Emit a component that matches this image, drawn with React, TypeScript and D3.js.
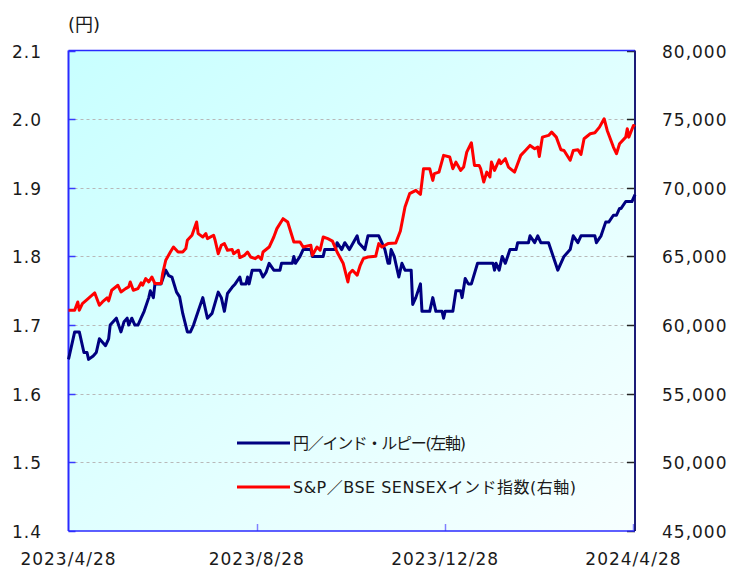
import React, { useRef, useEffect } from "react";
import * as d3 from "d3";

// x axis: days counted from 2023/4/28
const startDate = new Date(2023, 3, 28);
const endDate = new Date(2024, 3, 29);
const xTickLabels = ["2023/4/28", "2023/8/28", "2023/12/28", "2024/4/28"];

const yenTicks = [1.4, 1.5, 1.6, 1.7, 1.8, 1.9, 2.0, 2.1];
const sensexTicks = [45000, 50000, 55000, 60000, 65000, 70000, 75000, 80000];

const rupeeLabel = "円／インド・ルピー(左軸)";
const sensexLabel = "S&P／BSE SENSEXインド指数(右軸)";

// 円/インド・ルピー
const rupeeDays = [
  0, 4, 7, 10, 12, 13, 16, 18, 20, 22, 24, 26, 27, 31, 34, 36, 38, 39, 41, 43,
  45, 47, 49, 52, 53, 55, 56, 60, 63, 65, 67, 70, 72, 74, 77, 79, 81, 84, 87, 90,
  93, 97, 99, 101, 103, 106, 108, 111, 112, 115, 116, 117, 119, 124, 126, 128, 130, 133, 137, 138,
  145, 146, 147, 150, 152, 157, 158, 165, 166, 173, 174, 177, 179, 182, 187, 188, 192, 194, 201, 203,
  205, 207, 208, 209, 211, 214, 216, 218, 222, 223, 225, 228, 229, 234, 236, 238, 242, 243, 244, 249,
  251, 254, 255, 257, 259, 261, 265, 273, 275, 276, 277, 279, 281, 283, 286, 290, 291, 298, 299, 302,
  304, 306, 311, 314, 317, 321, 325, 327, 330, 332, 341, 342, 345, 348, 350, 353, 355, 357, 358, 361,
  365, 367,
];
const rupeeYen = [
  1.65, 1.69, 1.69, 1.66, 1.66, 1.65, 1.655, 1.66, 1.68, 1.675, 1.67, 1.68, 1.7, 1.71, 1.69, 1.705, 1.71, 1.7, 1.71, 1.7,
  1.7, 1.71, 1.72, 1.74, 1.75, 1.74, 1.76, 1.76, 1.78, 1.772, 1.77, 1.748, 1.741, 1.717, 1.69, 1.69, 1.7, 1.72, 1.74, 1.71,
  1.717, 1.748, 1.74, 1.72, 1.746, 1.755, 1.76, 1.77, 1.76, 1.76, 1.77, 1.76, 1.78, 1.78, 1.77, 1.777, 1.79, 1.78, 1.78, 1.79,
  1.79, 1.8, 1.79, 1.8, 1.81, 1.81, 1.8, 1.8, 1.81, 1.81, 1.82, 1.81, 1.82, 1.81, 1.83, 1.82, 1.81, 1.83, 1.83, 1.82,
  1.81, 1.79, 1.79, 1.81, 1.8, 1.77, 1.79, 1.78, 1.78, 1.73, 1.74, 1.76, 1.72, 1.72, 1.74, 1.72, 1.72, 1.71, 1.72, 1.72,
  1.75, 1.75, 1.74, 1.768, 1.76, 1.76, 1.79, 1.79, 1.79, 1.78, 1.79, 1.78, 1.8, 1.79, 1.81, 1.81, 1.82, 1.82, 1.83, 1.82,
  1.83, 1.82, 1.82, 1.8, 1.78, 1.8, 1.81, 1.83, 1.82, 1.83, 1.83, 1.82, 1.83, 1.85, 1.85, 1.86, 1.86, 1.87, 1.87, 1.88,
  1.88, 1.89,
];

// S&P/BSE SENSEX
const sensexDays = [
  0, 4, 6, 7, 9, 12, 14, 17, 20, 22, 25, 26, 28, 32, 34, 37, 39, 40, 42, 45,
  47, 48, 50, 52, 54, 56, 60, 61, 63, 66, 68, 71, 74, 76, 77, 80, 83, 84, 87, 89,
  90, 94, 95, 97, 99, 101, 103, 106, 107, 110, 111, 114, 116, 118, 121, 123, 125, 126, 130, 133,
  135, 139, 142, 146, 150, 152, 157, 158, 161, 163, 165, 168, 171, 174, 178, 181, 182, 184, 187, 189,
  191, 194, 199, 201, 203, 207, 212, 215, 218, 221, 225, 228, 230, 234, 236, 237, 240, 243, 247, 249,
  251, 254, 256, 258, 261, 263, 266, 267, 269, 271, 273, 274, 276, 279, 280, 283, 285, 289, 293, 296,
  299, 302, 304, 305, 307, 311, 313, 316, 319, 321, 325, 327, 330, 332, 334, 338, 341, 344, 347, 349,
  353, 355, 357, 361, 362, 363, 366, 367,
];
const sensexValues = [
  61080, 61080, 61685, 61080, 61570, 61860, 62050, 62340, 61445, 61685, 61975, 61760, 62535, 62900, 62410, 62655, 62780, 63140, 62535, 62655,
  63070, 62900, 63385, 63140, 63505, 63020, 63020, 63750, 64720, 65320, 65685, 65320, 65320, 65570, 66175, 66540, 67510, 66660, 66415, 66660,
  66295, 66540, 66175, 65200, 65810, 65935, 65450, 65500, 65200, 65450, 64915, 65080, 65320, 64960, 64840, 65010, 64790, 65320, 65685, 66415,
  67025, 67750, 67510, 66050, 66050, 65685, 65810, 65080, 65685, 65450, 66415, 66295, 66120, 65320, 64480, 63140, 63750, 63990, 63630, 64355,
  64840, 64960, 65010, 65935, 65685, 65935, 65980, 66850, 68600, 69570, 69810, 69520, 71390, 71390, 70540, 71030, 71145, 72360, 72240, 71390,
  71870, 71270, 71510, 72600, 73280, 71630, 71630, 71390, 70420, 71145, 70780, 71870, 71270, 72040, 71755, 72120, 71510, 71145, 72360, 72720,
  73085, 72845, 72965, 72285, 73690, 73815, 74055, 73690, 72775, 72720, 72000, 72720, 72775, 72430, 73575, 73935, 74010, 74420, 75030, 74180,
  72965, 72480, 73210, 73690, 74300, 73690, 74540, 74470,
];

const width = 729;
const height = 569;
const plotLeft = 68.5;
const plotRight = 635;
const plotTop = 50.5;
const plotBottom = 531;

const fontFamily = "'DejaVu Sans', 'Noto Sans CJK JP', sans-serif";
const cjkFont = "'DejaVu Sans', 'Noto Sans CJK JP', sans-serif";

const App = () => {
  const chartRef = useRef<HTMLDivElement>(null);

  useEffect(() => {
    const root = d3.select(chartRef.current);
    root.selectAll("*").remove();

    const svg = root
      .append("svg")
      .attr("width", width)
      .attr("height", height)
      .style("position", "absolute")
      .style("left", 0)
      .style("top", 0)
      .style("background", "#ffffff");

    const xScale = d3.scaleTime().domain([startDate, endDate]).range([plotLeft, plotRight]);
    const yLeft = d3.scaleLinear().domain([1.4, 2.1]).range([plotBottom, plotTop]);
    const yRight = d3.scaleLinear().domain([45000, 80000]).range([plotBottom, plotTop]);

    // background gradient
    const defs = svg.append("defs");
    const grad = defs
      .append("linearGradient")
      .attr("id", "bgGrad")
      .attr("x1", 0)
      .attr("y1", 0)
      .attr("x2", 1)
      .attr("y2", 1);
    grad.append("stop").attr("offset", "0%").attr("stop-color", "#c8ffff");
    grad.append("stop").attr("offset", "100%").attr("stop-color", "#f7ffff");

    svg
      .append("rect")
      .attr("x", plotLeft)
      .attr("y", plotTop)
      .attr("width", plotRight - plotLeft)
      .attr("height", plotBottom - plotTop)
      .attr("fill", "url(#bgGrad)");

    // gridlines
    svg
      .append("g")
      .selectAll("line")
      .data(yenTicks.filter((t) => t > 1.4 && t < 2.1))
      .enter()
      .append("line")
      .attr("x1", plotLeft)
      .attr("x2", plotRight)
      .attr("y1", (d) => Math.round(yLeft(d)) + 0.5)
      .attr("y2", (d) => Math.round(yLeft(d)) + 0.5)
      .attr("stroke", "#b8b8b8")
      .attr("stroke-dasharray", "3,3");

    // left ticks
    svg
      .append("g")
      .selectAll("line")
      .data(yenTicks)
      .enter()
      .append("line")
      .attr("x1", plotLeft)
      .attr("x2", plotLeft + 7)
      .attr("y1", (d) => Math.round(yLeft(d)) + 0.5)
      .attr("y2", (d) => Math.round(yLeft(d)) + 0.5)
      .attr("stroke", "#3a3aff")
      .attr("stroke-width", 1.5);

    // right ticks
    svg
      .append("g")
      .selectAll("line")
      .data(sensexTicks)
      .enter()
      .append("line")
      .attr("x1", plotRight - 8)
      .attr("x2", plotRight)
      .attr("y1", (d) => Math.round(yRight(d)) + 0.5)
      .attr("y2", (d) => Math.round(yRight(d)) + 0.5)
      .attr("stroke", "#222222")
      .attr("stroke-width", 1.5);

    // x ticks
    const tickDates = xTickLabels.map((s) => d3.timeParse("%Y/%m/%d")(s) as Date);
    svg
      .append("g")
      .selectAll("line")
      .data(tickDates.slice(1))
      .enter()
      .append("line")
      .attr("x1", (d) => Math.round(xScale(d)) + 0.5)
      .attr("x2", (d) => Math.round(xScale(d)) + 0.5)
      .attr("y1", plotBottom - 7)
      .attr("y2", plotBottom)
      .attr("stroke", "#8080ff")
      .attr("stroke-width", 1.5);

    // frame
    svg
      .append("line")
      .attr("x1", plotLeft)
      .attr("x2", plotRight)
      .attr("y1", plotTop)
      .attr("y2", plotTop)
      .attr("stroke", "#2a2aff")
      .attr("stroke-width", 1.5);
    svg
      .append("line")
      .attr("x1", plotLeft)
      .attr("x2", plotRight)
      .attr("y1", plotBottom)
      .attr("y2", plotBottom)
      .attr("stroke", "#2a2aff")
      .attr("stroke-width", 1.5);
    svg
      .append("line")
      .attr("x1", plotLeft)
      .attr("x2", plotLeft)
      .attr("y1", plotTop)
      .attr("y2", plotBottom)
      .attr("stroke", "#2a2aff")
      .attr("stroke-width", 2);
    svg
      .append("line")
      .attr("x1", plotRight)
      .attr("x2", plotRight)
      .attr("y1", plotTop)
      .attr("y2", plotBottom)
      .attr("stroke", "#1c1c78")
      .attr("stroke-width", 2);

    // series lines
    const rupeeData = rupeeDays.map((d, i) => ({ date: d3.timeDay.offset(startDate, d), v: rupeeYen[i] }));
    const sensexData = sensexDays.map((d, i) => ({ date: d3.timeDay.offset(startDate, d), v: sensexValues[i] }));

    const rupeeLine = d3
      .line<{ date: Date; v: number }>()
      .x((d) => xScale(d.date))
      .y((d) => yLeft(d.v));
    const sensexLine = d3
      .line<{ date: Date; v: number }>()
      .x((d) => xScale(d.date))
      .y((d) => yRight(d.v));

    svg
      .append("path")
      .datum(rupeeData)
      .attr("d", rupeeLine)
      .attr("fill", "none")
      .attr("stroke", "#000080")
      .attr("stroke-width", 3)
      .attr("stroke-linejoin", "round");

    svg
      .append("path")
      .datum(sensexData)
      .attr("d", sensexLine)
      .attr("fill", "none")
      .attr("stroke", "#ff0000")
      .attr("stroke-width", 3)
      .attr("stroke-linejoin", "round");

    // axis labels
    const textColor = "#1a1a1a";
    svg
      .append("g")
      .selectAll("text")
      .data(yenTicks)
      .enter()
      .append("text")
      .attr("x", 42)
      .attr("y", (d) => yLeft(d) + 7)
      .attr("text-anchor", "end")
      .attr("font-family", fontFamily)
      .attr("font-size", 17)
      .attr("letter-spacing", 1)
      .attr("fill", textColor)
      .text((d) => d.toFixed(1));

    svg
      .append("g")
      .selectAll("text")
      .data(sensexTicks)
      .enter()
      .append("text")
      .attr("x", 662)
      .attr("y", (d) => yRight(d) + 7)
      .attr("text-anchor", "start")
      .attr("font-family", fontFamily)
      .attr("font-size", 17)
      .attr("letter-spacing", 1)
      .attr("fill", textColor)
      .text((d) => d3.format(",")(d));

    svg
      .append("g")
      .selectAll("text")
      .data(xTickLabels)
      .enter()
      .append("text")
      .attr("x", (d, i) => xScale(tickDates[i]))
      .attr("y", 565)
      .attr("text-anchor", "middle")
      .attr("font-family", fontFamily)
      .attr("font-size", 17)
      .attr("letter-spacing", 1)
      .attr("fill", textColor)
      .text((d) => d);

    svg
      .append("text")
      .attr("x", 68)
      .attr("y", 31)
      .attr("font-family", cjkFont)
      .attr("font-size", 18)
      .attr("fill", textColor)
      .text("(円)");

    // legend
    const legend = [
      { label: rupeeLabel, color: "#000080", y: 443, len: 173 },
      { label: sensexLabel, color: "#ff0000", y: 487, len: 283 },
    ];
    const lg = svg.append("g");
    legend.forEach((l) => {
      lg.append("line")
        .attr("x1", 237)
        .attr("x2", 290)
        .attr("y1", l.y)
        .attr("y2", l.y)
        .attr("stroke", l.color)
        .attr("stroke-width", 3);
      lg.append("text")
        .attr("x", 293)
        .attr("y", l.y + 6)
        .attr("font-family", cjkFont)
        .attr("font-size", 16)
        .attr("textLength", l.len)
        .attr("lengthAdjust", "spacing")
        .attr("fill", textColor)
        .text(l.label);
    });
  }, []);

  return <div ref={chartRef}></div>;
};

export default App;
